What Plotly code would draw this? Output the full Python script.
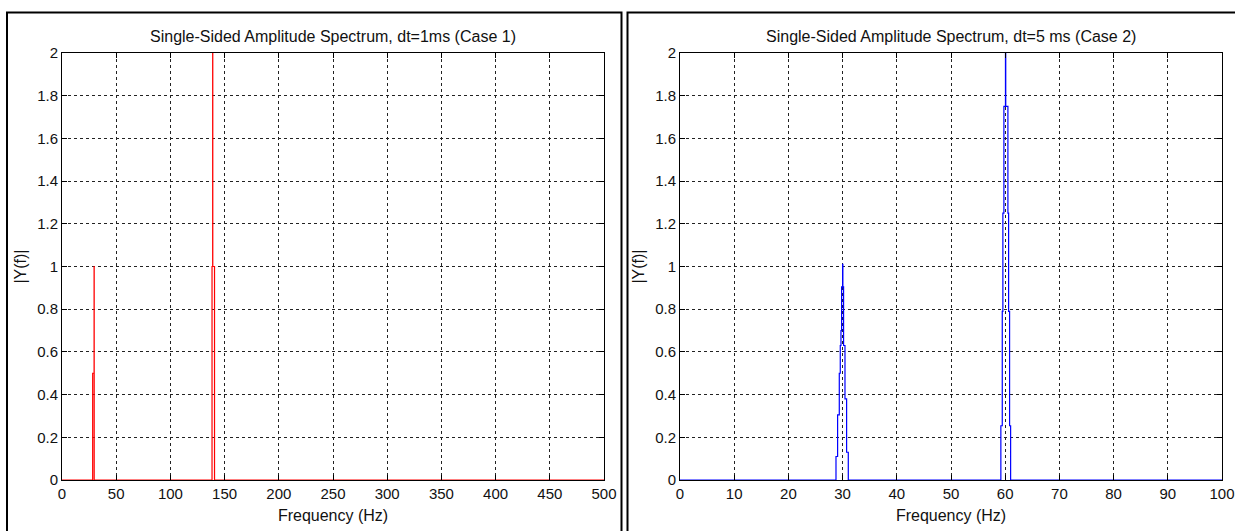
import plotly.graph_objects as go

W, H = 1235, 531

# ---- data (Case 1: dt = 1 ms, 0-500 Hz) ----
case1_freq = [0, 28.3, 29.6, 29.7, 138.4, 139.0, 139.1, 140.7, 500]
case1_amp  = [0, 0.5, 1.0, 0.0, 1.0, 2.0, 1.0, 0.0, 0.0]

# ---- data (Case 2: dt = 5 ms, 0-100 Hz) ----
case2_freq = [0, 28.78, 29.08, 29.39, 29.57, 29.70, 29.82, 30.00, 30.05, 30.18, 30.44, 30.74, 31.05,
              59.20, 59.46, 59.57, 59.76, 60.05, 60.10, 60.50, 60.63, 60.81, 61.00, 100]
case2_amp  = [0, 0.11, 0.305, 0.50, 0.63, 0.70, 0.905, 1.01, 0.905, 0.63, 0.38, 0.13, 0.0,
              0.254, 0.79, 1.25, 1.75, 2.0, 1.75, 1.25, 0.79, 0.254, 0.0, 0.0]

x1_ticks = [0, 50, 100, 150, 200, 250, 300, 350, 400, 450, 500]
x2_ticks = [0, 10, 20, 30, 40, 50, 60, 70, 80, 90, 100]
y_ticks = [0, 0.2, 0.4, 0.6, 0.8, 1, 1.2, 1.4, 1.6, 1.8, 2]
y_labels = ["0", "0.2", "0.4", "0.6", "0.8", "1", "1.2", "1.4", "1.6", "1.8", "2"]

titles = ["Single-Sided Amplitude Spectrum, dt=1ms (Case 1)",
          "Single-Sided Amplitude Spectrum, dt=5 ms (Case 2)"]
xlabel = "Frequency (Hz)"
ylabel = "|Y(f)|"

FONT = "Liberation Sans, Arial, Helvetica, sans-serif"

def px_x(p):
    return p / W

def px_y(p):
    return 1 - p / H

fig = go.Figure()
fig.add_trace(go.Scatter(x=case1_freq, y=case1_amp, mode="lines", line=dict(color="#ff0000", width=1.2, shape="hv"),
                         xaxis="x", yaxis="y", showlegend=False))
fig.add_trace(go.Scatter(x=case2_freq, y=case2_amp, mode="lines", line=dict(color="#0000ff", width=1.2, shape="hv"),
                         xaxis="x2", yaxis="y2", showlegend=False))

L1, R1 = 62, 604
L2, R2 = 680, 1222
T, B = 53, 480

tickfont = dict(family=FONT, size=15, color="#111111")
tfont = dict(family=FONT, size=16, color="#111111")

axis_common = dict(
    showline=True, linecolor="black", linewidth=1, mirror="ticks",
    ticks="inside", ticklen=5, tickcolor="black",
    showgrid=True, gridcolor="#222222", gridwidth=1, griddash="3px,3px",
    zeroline=False, tickfont=tickfont,
    automargin=False,
)

fig.update_layout(
    width=W, height=H,
    margin=dict(l=0, r=0, t=0, b=0, autoexpand=False),
    paper_bgcolor="white", plot_bgcolor="white",
    xaxis=dict(domain=[px_x(L1), px_x(R1)], range=[0, 500], tickvals=x1_ticks, anchor="y",
               title=dict(text=xlabel, font=tfont, standoff=8), **axis_common),
    yaxis=dict(domain=[px_y(B), px_y(T)], range=[0, 2], tickvals=y_ticks, ticktext=y_labels, anchor="x",
               title=dict(text=ylabel, font=tfont, standoff=6), **axis_common),
    xaxis2=dict(domain=[px_x(L2), px_x(R2)], range=[0, 100], tickvals=x2_ticks, anchor="y2",
                title=dict(text=xlabel, font=tfont, standoff=8), **axis_common),
    yaxis2=dict(domain=[px_y(B), px_y(T)], range=[0, 2], tickvals=y_ticks, ticktext=y_labels, anchor="x2",
                title=dict(text=ylabel, font=tfont, standoff=6), **axis_common),
    shapes=[
        dict(type="rect", xref="paper", yref="paper", x0=px_x(7), x1=px_x(621.5), y0=px_y(540), y1=px_y(12.5),
             line=dict(color="black", width=2), layer="below"),
        dict(type="rect", xref="paper", yref="paper", x0=px_x(627.5), x1=px_x(1240), y0=px_y(540), y1=px_y(12.5),
             line=dict(color="black", width=2), layer="below"),
    ],
    annotations=[
        dict(text=titles[0], xref="paper", yref="paper", x=px_x((L1 + R1) / 2), y=px_y(36),
             showarrow=False, font=tfont, xanchor="center", yanchor="middle"),
        dict(text=titles[1], xref="paper", yref="paper", x=px_x((L2 + R2) / 2), y=px_y(36),
             showarrow=False, font=tfont, xanchor="center", yanchor="middle"),
    ],
)

fig.write_html("out.html")
